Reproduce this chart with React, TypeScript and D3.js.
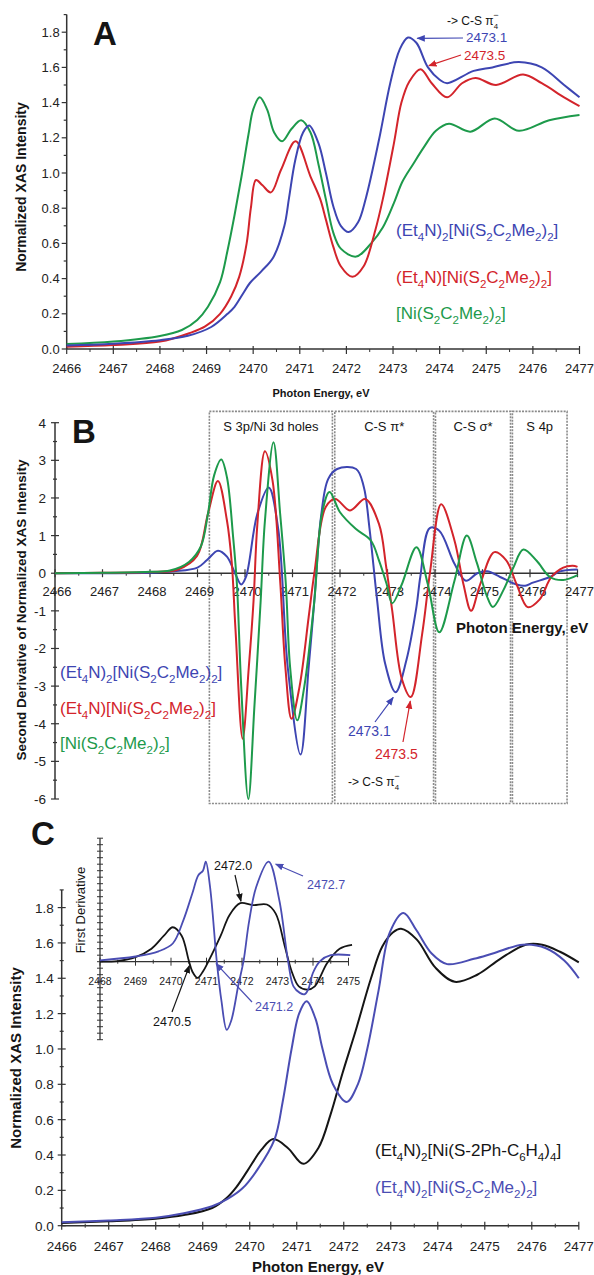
import * as d3 from 'd3';

const FONT = '"Liberation Sans", Arial, Helvetica, sans-serif';
const BLUE = '#3d45b2';
const RED = '#d3242b';
const GREEN = '#1d9a4b';
const BLUE_C = '#4a4db3';
const BLACK = '#151515';
const AXIS = '#333';

type Pt = [number, number];

// ---- panel A: normalized XAS ----
const xasDianionA: Pt[] = [
  [2466, 0.02], [2467, 0.03], [2468, 0.05], [2468.6, 0.075], [2469.1, 0.125], [2469.45, 0.2],
  [2469.6, 0.24], [2469.77, 0.31], [2469.93, 0.375], [2470.17, 0.44], [2470.43, 0.52],
  [2470.67, 0.7], [2470.77, 0.86], [2470.9, 1.07], [2471.07, 1.23], [2471.2, 1.27],
  [2471.4, 1.17], [2471.56, 1.0], [2471.72, 0.81], [2471.88, 0.7], [2472.05, 0.665],
  [2472.25, 0.72], [2472.42, 0.86], [2472.7, 1.19], [2472.94, 1.51], [2473.14, 1.7],
  [2473.32, 1.77], [2473.5, 1.74], [2473.75, 1.6], [2474.0, 1.53], [2474.16, 1.51],
  [2474.73, 1.58], [2475.13, 1.6], [2475.7, 1.63], [2476.19, 1.6], [2476.67, 1.5], [2477, 1.43],
];
const xasMonoanionA: Pt[] = [
  [2466, 0.013], [2467, 0.023], [2468, 0.042], [2468.63, 0.09], [2468.97, 0.128], [2469.29, 0.2],
  [2469.53, 0.3], [2469.7, 0.41], [2469.86, 0.6], [2469.95, 0.8], [2470.06, 0.96], [2470.2, 0.93],
  [2470.38, 0.89], [2470.6, 1.02], [2470.91, 1.18], [2471.23, 0.98], [2471.44, 0.85],
  [2471.56, 0.735], [2471.72, 0.58], [2471.88, 0.47], [2472.13, 0.41], [2472.37, 0.47],
  [2472.62, 0.675], [2472.78, 0.85], [2473.02, 1.17], [2473.18, 1.4], [2473.35, 1.52],
  [2473.59, 1.59], [2473.83, 1.51], [2474.16, 1.43], [2474.48, 1.51], [2474.77, 1.54],
  [2475.21, 1.5], [2475.79, 1.56], [2476.19, 1.51], [2476.67, 1.43], [2477, 1.38],
];
const xasNeutralA: Pt[] = [
  [2466, 0.028], [2467, 0.042], [2468, 0.074], [2468.47, 0.108], [2468.8, 0.165], [2469.03, 0.24],
  [2469.29, 0.38], [2469.45, 0.56], [2469.6, 0.76], [2469.75, 0.98], [2469.9, 1.22],
  [2470.0, 1.36], [2470.14, 1.43], [2470.3, 1.36], [2470.45, 1.23], [2470.62, 1.18],
  [2470.82, 1.25], [2471.03, 1.3], [2471.23, 1.23], [2471.4, 1.05], [2471.56, 0.85],
  [2471.72, 0.66], [2471.88, 0.57], [2472.21, 0.525], [2472.53, 0.6], [2472.78, 0.69],
  [2473.02, 0.83], [2473.2, 0.95], [2473.43, 1.05], [2473.67, 1.15], [2473.92, 1.24],
  [2474.2, 1.28], [2474.66, 1.235], [2475.18, 1.31], [2475.7, 1.24], [2476.35, 1.3], [2477, 1.33],
];

// ---- panel B: second derivative ----
const d2DianionB: Pt[] = [
  [2466, 0], [2467, 0], [2468, 0.01], [2468.5, 0.05], [2469.0, 0.15], [2469.2, 0.35],
  [2469.43, 0.6], [2469.62, 0.44], [2469.79, 0.0], [2469.92, -0.3], [2470.02, -0.1],
  [2470.26, 1.58], [2470.5, 2.28], [2470.7, 1.17], [2470.9, -2.5], [2471.17, -4.82],
  [2471.34, -2.5], [2471.46, -0.73], [2471.6, 1.5], [2471.75, 2.5], [2471.94, 2.77],
  [2472.34, 2.77], [2472.5, 2.3], [2472.62, 1.2], [2472.78, -0.7], [2472.95, -2.4],
  [2473.17, -3.16], [2473.4, -2.3], [2473.61, -0.89], [2473.69, -0.1], [2473.89, 1.2],
  [2474.09, 1.13], [2474.41, 0.25], [2474.65, -0.2], [2474.89, 0.0], [2475.1, 0.05],
  [2475.37, -0.1], [2475.72, -0.3], [2475.9, -0.33], [2476.06, -0.25], [2476.42, -0.1],
  [2476.63, 0.05], [2477, 0.1],
];
const d2MonoanionB: Pt[] = [
  [2466, 0], [2467, 0.01], [2468, 0.03], [2468.59, 0.1], [2468.99, 0.46], [2469.22, 1.58],
  [2469.43, 2.45], [2469.62, 1.4], [2469.72, 0.3], [2469.8, -1.5], [2469.95, -4.4],
  [2470.08, -2.5], [2470.18, -0.73], [2470.26, 1.3], [2470.42, 3.24], [2470.58, 2.46],
  [2470.74, -0.2], [2470.85, -2.5], [2470.98, -3.87], [2471.15, -3.0], [2471.34, -1.17],
  [2471.46, 0.0], [2471.7, 1.76], [2471.9, 1.97], [2472.21, 1.67], [2472.53, 1.97],
  [2472.82, 1.31], [2472.97, 0.19], [2473.1, -1.0], [2473.3, -2.8], [2473.49, -3.29],
  [2473.73, -1.61], [2473.9, 0.07], [2474.13, 1.83], [2474.41, 0.87], [2474.6, -0.3],
  [2474.76, -1.0], [2474.95, -0.3], [2475.25, 0.56], [2475.5, 0.34], [2475.72, -0.3],
  [2475.95, -0.9], [2476.2, -0.7], [2476.45, -0.1], [2476.7, 0.15], [2476.9, 0.2], [2477, 0.17],
];
const d2NeutralB: Pt[] = [
  [2466, 0], [2467, 0.01], [2468, 0.04], [2468.42, 0.07], [2468.82, 0.3], [2469.07, 0.71],
  [2469.22, 1.58], [2469.35, 2.6], [2469.5, 3.02], [2469.62, 2.55], [2469.75, 0.96],
  [2469.83, -0.3], [2469.92, -3.0], [2470.07, -6.0], [2470.2, -3.5], [2470.33, -0.73],
  [2470.42, 1.4], [2470.6, 3.48], [2470.74, 1.58], [2470.86, -0.3], [2470.95, -2.5],
  [2471.1, -3.91], [2471.25, -3.0], [2471.46, -0.73], [2471.62, 1.58], [2471.78, 2.16],
  [2472.0, 1.62], [2472.33, 1.18], [2472.65, 0.87], [2472.82, 0.34], [2472.98, -0.28],
  [2473.1, -0.8], [2473.3, -0.3], [2473.61, 0.69], [2473.85, -0.3], [2474.09, -1.57],
  [2474.41, -0.2], [2474.67, 1.0], [2474.88, 0.28], [2475.09, -0.6], [2475.22, -0.9],
  [2475.44, -0.45], [2475.65, 0.15], [2475.86, 0.63], [2476.14, 0.33], [2476.42, -0.1],
  [2476.7, -0.18], [2477, -0.05],
];
const regionsB: { label: string; from: number; to: number }[] = [
  { label: 'S 3p/Ni 3d holes', from: 2469.25, to: 2471.84 },
  { label: 'C-S \u03c0*', from: 2471.89, to: 2473.97 },
  { label: 'C-S \u03c3*', from: 2474.01, to: 2475.59 },
  { label: 'S 4p', from: 2475.63, to: 2476.78 },
];

// ---- panel C: XAS + first derivative inset ----
const xasThiolateC: Pt[] = [
  [2466, 0.015], [2467, 0.025], [2468, 0.04], [2468.6, 0.06], [2469.2, 0.1], [2469.52, 0.16],
  [2469.72, 0.22], [2469.95, 0.31], [2470.25, 0.43], [2470.5, 0.49], [2470.81, 0.44],
  [2471.14, 0.35], [2471.46, 0.44], [2471.72, 0.63], [2471.97, 0.86], [2472.25, 1.1],
  [2472.58, 1.4], [2472.82, 1.58], [2473.05, 1.66], [2473.22, 1.68],
  [2473.55, 1.62], [2473.95, 1.46], [2474.36, 1.38], [2474.84, 1.42], [2475.33, 1.51],
  [2475.87, 1.59], [2476.22, 1.59], [2476.6, 1.55], [2477, 1.49],
];
const xasDianionC: Pt[] = [
  [2466, 0.02], [2467, 0.03], [2468, 0.045], [2468.6, 0.07], [2469.2, 0.11], [2469.52, 0.15],
  [2469.84, 0.21], [2470.17, 0.32], [2470.53, 0.49], [2470.7, 0.7], [2470.89, 1.0],
  [2471.05, 1.2], [2471.21, 1.27], [2471.4, 1.17], [2471.54, 1.01], [2471.77, 0.8],
  [2472.06, 0.7], [2472.3, 0.8], [2472.5, 1.0], [2472.74, 1.33], [2472.98, 1.66],
  [2473.27, 1.77], [2473.55, 1.67], [2473.87, 1.54], [2474.2, 1.48], [2474.77, 1.51],
  [2475.17, 1.54], [2475.81, 1.59], [2476.3, 1.57], [2476.69, 1.5], [2477, 1.4],
];
const d1ThiolateInset: Pt[] = [
  [2468, 0.0], [2468.5, 0.01], [2469.0, 0.07], [2469.45, 0.2], [2469.8, 0.4], [2470.05, 0.53],
  [2470.3, 0.4], [2470.5, 0.02], [2470.6, -0.15], [2470.75, -0.25], [2470.9, -0.15],
  [2471.05, 0.0], [2471.4, 0.4], [2471.65, 0.72], [2471.95, 0.9], [2472.3, 0.87],
  [2472.7, 0.88], [2472.95, 0.74], [2473.2, 0.25], [2473.4, -0.15], [2473.6, -0.38],
  [2473.85, -0.43], [2474.05, -0.38], [2474.4, -0.02], [2474.75, 0.2], [2475.1, 0.26],
];
const d1DianionInset: Pt[] = [
  [2468, 0.02], [2469.0, 0.08], [2469.65, 0.16], [2470.05, 0.28], [2470.35, 0.64],
  [2470.6, 1.05], [2470.77, 1.33], [2470.9, 1.4], [2470.98, 1.54], [2471.1, 1.15],
  [2471.29, 0.0], [2471.42, -0.6], [2471.57, -1.05], [2471.7, -0.9], [2471.9, -0.35],
  [2472.04, 0.0], [2472.2, 0.62], [2472.4, 1.15], [2472.75, 1.54], [2473.05, 0.95],
  [2473.3, 0.0], [2473.45, -0.38], [2473.63, -0.48], [2473.77, -0.5], [2473.87, -0.42],
  [2474.0, -0.17], [2474.2, 0.01], [2474.5, 0.1], [2475.05, 0.1],
];

// formula pieces: [text, subscript?]
type Part = [string, boolean];
const fDianion: Part[] = [['(Et', false], ['4', true], ['N)', false], ['2', true], ['[Ni(S', false], ['2', true], ['C', false], ['2', true], ['Me', false], ['2', true], [')', false], ['2', true], [']', false]];
const fMonoanion: Part[] = [['(Et', false], ['4', true], ['N)[Ni(S', false], ['2', true], ['C', false], ['2', true], ['Me', false], ['2', true], [')', false], ['2', true], [']', false]];
const fNeutral: Part[] = [['[Ni(S', false], ['2', true], ['C', false], ['2', true], ['Me', false], ['2', true], [')', false], ['2', true], [']', false]];
const fThiolate: Part[] = [['(Et', false], ['4', true], ['N)', false], ['2', true], ['[Ni(S-2Ph-C', false], ['6', true], ['H', false], ['4', true], [')', false], ['4', true], [']', false]];

const energyTicks = d3.range(2466, 2478);
const insetTicks = d3.range(2468, 2476);

const xA = d3.scaleLinear().domain([2466, 2477]).range([66.7, 579.5]);
const yA = d3.scaleLinear().domain([0, 1.9]).range([349, 14.6]);
const xB = d3.scaleLinear().domain([2466, 2477]).range([55, 577.5]);
const yB = d3.scaleLinear().domain([-6, 4]).range([799, 422.7]);
const xC = d3.scaleLinear().domain([2466, 2477]).range([61.7, 578.8]);
const yC = d3.scaleLinear().domain([0, 1.9]).range([1225.7, 889.9]);
const xI = d3.scaleLinear().domain([2468, 2475]).range([100, 348.5]);
const yI = d3.scaleLinear().domain([-1.2, 1.9]).range([1039.7, 838.2]);

type Scale = d3.ScaleLinear<number, number>;

const pathFor = (x: Scale, y: Scale, data: Pt[]) =>
  d3.line<Pt>().x(d => x(d[0])).y(d => y(d[1])).curve(d3.curveCatmullRom.alpha(0.5))(data) || '';

function Formula({ x, y, parts, color, size }: { x: number; y: number; parts: Part[]; color: string; size: number }) {
  let prevSub = false;
  const shift = size * 0.3;
  return (
    <text x={x} y={y} fill={color} fontSize={size} fontFamily={FONT}>
      {parts.map(([t, sub], i) => {
        const dy = sub && !prevSub ? shift : !sub && prevSub ? -shift : 0;
        prevSub = sub;
        return (
          <tspan key={i} dy={dy} fontSize={sub ? size * 0.68 : size}>{t}</tspan>
        );
      })}
    </text>
  );
}

function PiLabel({ x, y, size }: { x: number; y: number; size: number }) {
  return (
    <text x={x} y={y} fontSize={size} fontFamily={FONT} fill={BLACK}>
      {'-> C-S \u03c0'}
      <tspan fontSize={size * 0.65} dy={size * 0.3}>4</tspan>
      <tspan fontSize={size * 0.75} dx={-size * 0.4} dy={-size * 0.85}>{'\u2212'}</tspan>
    </text>
  );
}

function YTitle({ x, y, text, size }: { x: number; y: number; text: string; size: number }) {
  return (
    <text transform={`translate(${x},${y}) rotate(-90)`} textAnchor="middle" dominantBaseline="central"
      fontSize={size} fontWeight="bold" fontFamily={FONT} fill={BLACK}>{text}</text>
  );
}

function Arrow({ x1, y1, x2, y2, color, id }: { x1: number; y1: number; x2: number; y2: number; color: string; id: string }) {
  return <line x1={x1} y1={y1} x2={x2} y2={y2} stroke={color} strokeWidth={1.2} markerEnd={`url(#${id})`} />;
}

export default function App() {
  const halves = (lo: number, hi: number) => d3.range(lo + 0.5, hi, 1);
  return (
    <svg width={594} height={1275} viewBox="0 0 594 1275"
      style={{ position: 'absolute', left: 0, top: 0, background: '#fff' }}>
      <defs>
        {[['ahBlue', BLUE], ['ahRed', RED], ['ahBlack', BLACK], ['ahBlueC', BLUE_C]].map(([id, c]) => (
          <marker key={id} id={id} viewBox="0 0 10 10" refX={9} refY={5} markerWidth={7} markerHeight={7} orient="auto">
            <path d="M0,1 L10,5 L0,9 z" fill={c} />
          </marker>
        ))}
      </defs>
      <rect width={594} height={1275} fill="#fff" />

      {/* ================= Panel A ================= */}
      <g>
        <line x1={xA(2466)} x2={xA(2466)} y1={yA(0)} y2={yA(1.9)} stroke={AXIS} strokeWidth={1.5} />
        <line x1={xA(2466)} x2={xA(2477)} y1={yA(0)} y2={yA(0)} stroke={AXIS} strokeWidth={1.5} />
        {d3.range(0, 1.95, 0.1).map((v, i) => (
          <line key={'ya' + i} x1={xA(2466) - (i % 2 === 0 ? 5 : 3)} x2={xA(2466)} y1={yA(v)} y2={yA(v)} stroke={AXIS} strokeWidth={1.2} />
        ))}
        {d3.range(0, 1.81, 0.2).map(v => (
          <text key={'yla' + v} x={xA(2466) - 7} y={yA(v) + 4.5} textAnchor="end" fontSize={13} fontFamily={FONT} fill="#222">{v.toFixed(1)}</text>
        ))}
        {energyTicks.map(e => (
          <g key={'xa' + e}>
            <line x1={xA(e)} x2={xA(e)} y1={yA(0) - 3} y2={yA(0) + 5} stroke={AXIS} strokeWidth={1.2} />
            <text x={xA(e)} y={yA(0) + 24} textAnchor="middle" fontSize={13} fontFamily={FONT} fill="#222">{e}</text>
          </g>
        ))}
        {halves(2466, 2477).map(e => (
          <line key={'xam' + e} x1={xA(e)} x2={xA(e)} y1={yA(0)} y2={yA(0) + 3} stroke={AXIS} strokeWidth={1} />
        ))}
        <text x={321} y={397} textAnchor="middle" fontSize={11} fontWeight="bold" fontFamily={FONT} fill={BLACK}>Photon Energy, eV</text>
        <YTitle x={21} y={187} text="Normalized XAS Intensity" size={14} />
        <text x={93} y={45} fontSize={33} fontWeight="bold" fontFamily={FONT} fill={BLACK}>A</text>

        <path d={pathFor(xA, yA, xasNeutralA)} fill="none" stroke={GREEN} strokeWidth={2} />
        <path d={pathFor(xA, yA, xasMonoanionA)} fill="none" stroke={RED} strokeWidth={2} />
        <path d={pathFor(xA, yA, xasDianionA)} fill="none" stroke={BLUE} strokeWidth={2} />

        <PiLabel x={447} y={25} size={12} />
        <text x={466} y={42} fontSize={13.5} fontFamily={FONT} fill={BLUE}>2473.1</text>
        <text x={464} y={60} fontSize={13.5} fontFamily={FONT} fill={RED}>2473.5</text>
        <Arrow x1={463} y1={38} x2={xA(2473.52)} y2={yA(1.765)} color={BLUE} id="ahBlue" />
        <Arrow x1={461} y1={55} x2={xA(2473.77)} y2={yA(1.61)} color={RED} id="ahRed" />

        <Formula x={396} y={236} parts={fDianion} color={BLUE} size={17} />
        <Formula x={396} y={283} parts={fMonoanion} color={RED} size={17} />
        <Formula x={396} y={319} parts={fNeutral} color={GREEN} size={17} />
      </g>

      {/* ================= Panel B ================= */}
      <g>
        {regionsB.map(r => (
          <g key={r.label}>
            <rect x={xB(r.from)} y={yB(4.3)} width={xB(r.to) - xB(r.from)} height={yB(-6.12) - yB(4.3)}
              fill="none" stroke="#8a8a8a" strokeWidth={1.6} strokeDasharray="2,1.2" />
            <text x={(xB(r.from) + xB(r.to)) / 2} y={yB(4.3) + 20} textAnchor="middle" fontSize={13} fontFamily={FONT} fill={BLACK}>{r.label}</text>
          </g>
        ))}
        <line x1={xB(2466)} x2={xB(2466)} y1={yB(-6)} y2={yB(4)} stroke={AXIS} strokeWidth={1.5} />
        <line x1={xB(2466)} x2={xB(2477)} y1={yB(0)} y2={yB(0)} stroke={AXIS} strokeWidth={1.5} />
        {d3.range(-6, 4.01, 0.5).map((v, i) => (
          <line key={'yb' + i} x1={xB(2466) - (i % 2 === 0 ? 4 : 2)} x2={xB(2466) + (i % 2 === 0 ? 4 : 2)} y1={yB(v)} y2={yB(v)} stroke={AXIS} strokeWidth={1.2} />
        ))}
        {d3.range(-6, 5).map(v => (
          <text key={'ylb' + v} x={xB(2466) - 9} y={yB(v) + 5} textAnchor="end" fontSize={13.5} fontFamily={FONT} fill="#222">{v < 0 ? '-' + Math.abs(v) : v}</text>
        ))}
        {energyTicks.map(e => (
          <g key={'xb' + e}>
            <line x1={xB(e)} x2={xB(e)} y1={yB(0) - 4} y2={yB(0) + 4} stroke={AXIS} strokeWidth={1.2} />
            <text x={xB(e) + 2} y={yB(0) + 23} textAnchor="middle" fontSize={13} fontFamily={FONT} fill="#222">{e}</text>
          </g>
        ))}
        {halves(2466, 2477).map(e => (
          <line key={'xbm' + e} x1={xB(e)} x2={xB(e)} y1={yB(0)} y2={yB(0) + 2.5} stroke={AXIS} strokeWidth={1} />
        ))}
        <text x={456} y={633} fontSize={15} fontWeight="bold" fontFamily={FONT} fill={BLACK}>Photon Energy, eV</text>
        <YTitle x={21} y={610} text="Second Derivative of Normalized XAS Intensity" size={13.5} />
        <text x={72} y={443} fontSize={33} fontWeight="bold" fontFamily={FONT} fill={BLACK}>B</text>

        <path d={pathFor(xB, yB, d2DianionB)} fill="none" stroke={BLUE} strokeWidth={2} />
        <path d={pathFor(xB, yB, d2MonoanionB)} fill="none" stroke={RED} strokeWidth={2} />
        <path d={pathFor(xB, yB, d2NeutralB)} fill="none" stroke={GREEN} strokeWidth={2} />

        <Formula x={60} y={678} parts={fDianion} color={BLUE} size={17} />
        <Formula x={60} y={714} parts={fMonoanion} color={RED} size={17} />
        <Formula x={60} y={749} parts={fNeutral} color={GREEN} size={17} />

        <text x={348} y={736} fontSize={14} fontFamily={FONT} fill={BLUE}>2473.1</text>
        <text x={375} y={759} fontSize={14} fontFamily={FONT} fill={RED}>2473.5</text>
        <Arrow x1={375} y1={722} x2={xB(2473.12)} y2={yB(-3.3)} color={BLUE} id="ahBlue" />
        <Arrow x1={403} y1={742} x2={xB(2473.48)} y2={yB(-3.4)} color={RED} id="ahRed" />
        <PiLabel x={348} y={786} size={12} />
      </g>

      {/* ================= Panel C ================= */}
      <g>
        <line x1={xC(2466)} x2={xC(2466)} y1={yC(0)} y2={yC(1.9)} stroke={AXIS} strokeWidth={1.5} />
        <line x1={xC(2466)} x2={xC(2477)} y1={yC(0)} y2={yC(0)} stroke={AXIS} strokeWidth={1.5} />
        {d3.range(0, 1.95, 0.1).map((v, i) => (
          <line key={'yc' + i} x1={xC(2466) - (i % 2 === 0 ? 4 : 2)} x2={xC(2466) + (i % 2 === 0 ? 4 : 2)} y1={yC(v)} y2={yC(v)} stroke={AXIS} strokeWidth={1.2} />
        ))}
        {d3.range(0, 1.81, 0.2).map(v => (
          <text key={'ylc' + v} x={xC(2466) - 8} y={yC(v) + 5} textAnchor="end" fontSize={13.5} fontFamily={FONT} fill="#222">{v.toFixed(1)}</text>
        ))}
        {energyTicks.map(e => (
          <g key={'xc' + e}>
            <line x1={xC(e)} x2={xC(e)} y1={yC(0) - 4} y2={yC(0) + 4} stroke={AXIS} strokeWidth={1.2} />
            <text x={xC(e)} y={yC(0) + 25} textAnchor="middle" fontSize={13.5} fontFamily={FONT} fill="#222">{e}</text>
          </g>
        ))}
        {halves(2466, 2477).map(e => (
          <line key={'xcm' + e} x1={xC(e)} x2={xC(e)} y1={yC(0) - 2} y2={yC(0) + 2} stroke={AXIS} strokeWidth={1} />
        ))}
        <text x={318} y={1272} textAnchor="middle" fontSize={15} fontWeight="bold" fontFamily={FONT} fill={BLACK}>Photon Energy, eV</text>
        <YTitle x={15} y={1058} text="Normalized XAS Intensity" size={15} />
        <text x={31} y={845} fontSize={33} fontWeight="bold" fontFamily={FONT} fill={BLACK}>C</text>

        <path d={pathFor(xC, yC, xasThiolateC)} fill="none" stroke={BLACK} strokeWidth={2} />
        <path d={pathFor(xC, yC, xasDianionC)} fill="none" stroke={BLUE_C} strokeWidth={2} />

        <Formula x={375} y={1156} parts={fThiolate} color={BLACK} size={17} />
        <Formula x={375} y={1193} parts={fDianion} color={BLUE_C} size={17} />

        {/* inset */}
        <line x1={xI(2468)} x2={xI(2468)} y1={yI(-1.2)} y2={yI(1.9)} stroke={AXIS} strokeWidth={1.3} />
        <line x1={xI(2468)} x2={xI(2475)} y1={yI(0)} y2={yI(0)} stroke={AXIS} strokeWidth={1.3} />
        {d3.range(-1.2, 1.91, 0.1).map((v, i) => (
          <line key={'yi' + i} x1={xI(2468) - 3} x2={xI(2468) + 3} y1={yI(v)} y2={yI(v)} stroke={AXIS} strokeWidth={1} />
        ))}
        {insetTicks.map(e => (
          <g key={'xi' + e}>
            <line x1={xI(e)} x2={xI(e)} y1={yI(0) - 4} y2={yI(0) + 4} stroke={AXIS} strokeWidth={1} />
            <text x={xI(e)} y={yI(0) + 23} textAnchor="middle" fontSize={10.5} fontFamily={FONT} fill="#222">{e}</text>
          </g>
        ))}
        {halves(2468, 2475).map(e => (
          <line key={'xim' + e} x1={xI(e)} x2={xI(e)} y1={yI(0) - 2} y2={yI(0) + 2} stroke={AXIS} strokeWidth={1} />
        ))}
        <text transform={`translate(80,910) rotate(-90)`} textAnchor="middle" dominantBaseline="central"
          fontSize={13} fontFamily={FONT} fill={BLACK}>First Derivative</text>

        <path d={pathFor(xI, yI, d1ThiolateInset)} fill="none" stroke={BLACK} strokeWidth={1.8} />
        <path d={pathFor(xI, yI, d1DianionInset)} fill="none" stroke={BLUE_C} strokeWidth={1.8} />

        <text x={214} y={870} fontSize={12.5} fontFamily={FONT} fill={BLACK}>2472.0</text>
        <Arrow x1={235} y1={875} x2={xI(2471.97)} y2={yI(0.93)} color={BLACK} id="ahBlack" />
        <text x={307} y={889} fontSize={12.5} fontFamily={FONT} fill={BLUE_C}>2472.7</text>
        <Arrow x1={303} y1={876} x2={xI(2472.95)} y2={yI(1.5)} color={BLUE_C} id="ahBlueC" />
        <text x={255} y={1011} fontSize={12.5} fontFamily={FONT} fill={BLUE_C}>2471.2</text>
        <Arrow x1={252} y1={1002} x2={xI(2471.27)} y2={yI(-0.03)} color={BLUE_C} id="ahBlueC" />
        <text x={153} y={1026} fontSize={12.5} fontFamily={FONT} fill={BLACK}>2470.5</text>
        <Arrow x1={172} y1={1012} x2={xI(2470.52)} y2={yI(-0.06)} color={BLACK} id="ahBlack" />
      </g>
    </svg>
  );
}
